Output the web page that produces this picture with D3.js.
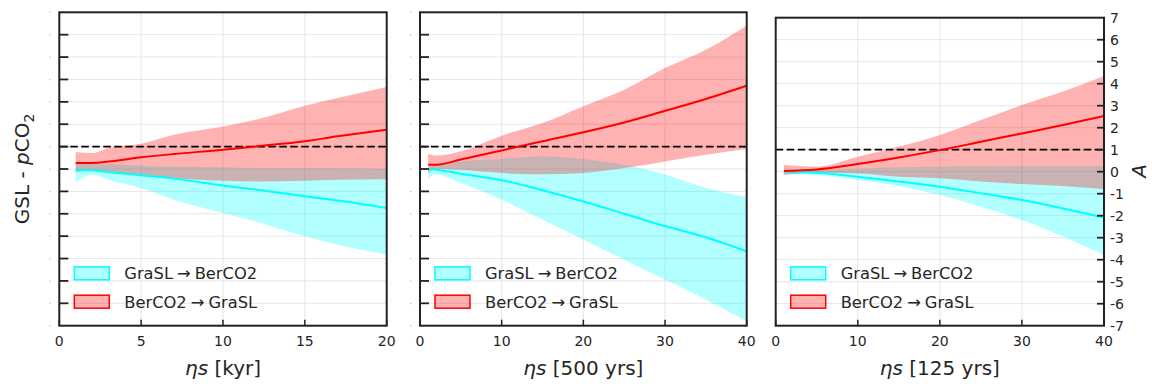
<!DOCTYPE html>
<html><head><meta charset="utf-8">
<script src="https://cdn.jsdelivr.net/npm/d3@7"></script>
<style>
html,body{margin:0;padding:0;background:#fff;}
svg{display:block;font-family:"DejaVu Sans",sans-serif;}
</style></head>
<body><svg id="c" width="1152" height="384"></svg>
<script>
// ---------- data ----------
const seriesNames = ["GraSL\u2192BerCO2", "BerCO2\u2192GraSL"];
const xLabels = ["kyr", "500 yrs", "125 yrs"];
const yTicks = [-7,-6,-5,-4,-3,-2,-1,0,1,2,3,4,5,6,7];
const threshold = 1;

// Panel 1 (eta s in kyr)
const p1X       = [1, 2, 3, 5, 7, 10, 12, 15, 17, 20];
const p1Cyan    = [-0.03,-0.06,-0.13,-0.28,-0.43,-0.74,-0.92,-1.22,-1.41,-1.74];
const p1CyanLo  = [-0.6,-0.25,-0.48,-0.85,-1.37,-1.96,-2.34,-3.0,-3.38,-3.82];
const p1CyanHi  = [0.2,0.25,0.22,0.15,0.1,0.08,0.05,0.05,0.03,0.0];
const p1Red     = [0.27,0.27,0.33,0.52,0.67,0.86,1.01,1.24,1.46,1.76];
const p1RedLo   = [-0.15,-0.05,-0.18,-0.3,-0.42,-0.52,-0.56,-0.52,-0.48,-0.46];
const p1RedHi   = [0.76,0.71,0.94,1.13,1.53,1.9,2.2,2.83,3.17,3.66];

// Panel 2 (eta s in 500 yrs)
const p2X       = [1, 2, 5, 10, 15, 20, 25, 30, 35, 40];
const p2Cyan    = [0,-0.03,-0.21,-0.5,-0.95,-1.45,-2.0,-2.55,-3.05,-3.68];
const p2CyanLo  = [-0.4,-0.25,-0.63,-1.37,-2.26,-3.15,-4.05,-4.94,-5.83,-6.8];
const p2CyanHi  = [0.04,0.19,0.34,0.45,0.57,0.45,0.19,-0.25,-0.85,-1.25];
const p2Red     = [0.19,0.19,0.42,0.83,1.24,1.64,2.08,2.6,3.13,3.72];
const p2RedLo   = [-0.18,0,-0.03,-0.18,-0.24,-0.18,0.04,0.34,0.64,0.89];
const p2RedHi   = [0.68,0.6,0.79,1.49,2.05,2.8,3.54,4.51,5.33,6.4];

// Panel 3 (eta s in 125 yrs)
const p3X       = [1, 5, 10, 15, 20, 25, 30, 35, 40];
const p3Cyan    = [0,-0.05,-0.23,-0.45,-0.68,-0.98,-1.29,-1.67,-2.08];
const p3CyanLo  = [-0.1,-0.15,-0.38,-0.65,-1.06,-1.59,-2.2,-2.95,-3.79];
const p3CyanHi  = [0.15,0.1,0.15,0.2,0.23,0.25,0.26,0.26,0.26];
const p3Red     = [0.03,0.1,0.35,0.65,0.98,1.36,1.74,2.12,2.53];
const p3RedLo   = [-0.15,-0.05,-0.08,-0.23,-0.3,-0.45,-0.56,-0.65,-0.79];
const p3RedHi   = [0.3,0.23,0.68,1.14,1.67,2.35,3.03,3.64,4.35];

const panels = [
  {x:p1X, c:p1Cyan, cLo:p1CyanLo, cHi:p1CyanHi, r:p1Red, rLo:p1RedLo, rHi:p1RedHi,
   xMax:20, xTicks:[0,5,10,15,20], unit:xLabels[0], box:[59.3,386.7,12.3,325.7], left:true},
  {x:p2X, c:p2Cyan, cLo:p2CyanLo, cHi:p2CyanHi, r:p2Red, rLo:p2RedLo, rHi:p2RedHi,
   xMax:40, xTicks:[0,10,20,30,40], unit:xLabels[1], box:[420,746.7,12.3,325.7], left:true},
  {x:p3X, c:p3Cyan, cLo:p3CyanLo, cHi:p3CyanHi, r:p3Red, rLo:p3RedLo, rHi:p3RedHi,
   xMax:40, xTicks:[0,10,20,30,40], unit:xLabels[2], box:[775.7,1104,17.7,325.7], right:true}
];

const CYAN = "#00ffff", RED = "#ff0000";
const svg = d3.select("#c");
const txt = "#262626";

panels.forEach((p, pi) => {
  const [x0,x1,y0,y1] = p.box;
  const xs = d3.scaleLinear().domain([0,p.xMax]).range([x0,x1]);
  const ys = d3.scaleLinear().domain([-7,7]).range([y1,y0]);
  const g = svg.append("g");

  // grid
  g.selectAll(".gy").data(yTicks.filter(t=>t>-7&&t<7)).join("line")
    .attr("x1",x0).attr("x2",x1).attr("y1",d=>ys(d)).attr("y2",d=>ys(d))
    .attr("stroke","#e6e6e6").attr("stroke-width",1);
  g.selectAll(".gx").data(p.xTicks.filter(t=>t>0&&t<p.xMax)).join("line")
    .attr("y1",y0).attr("y2",y1).attr("x1",d=>xs(d)).attr("x2",d=>xs(d))
    .attr("stroke","#e6e6e6").attr("stroke-width",1);

  const idx = d3.range(p.x.length);
  const area = (lo,hi) => d3.area().curve(d3.curveMonotoneX)
      .x(i=>xs(p.x[i])).y0(i=>ys(lo[i])).y1(i=>ys(hi[i]));
  const line = (v) => d3.line().curve(d3.curveMonotoneX)
      .x(i=>xs(p.x[i])).y(i=>ys(v[i]));

  g.append("path").attr("d",area(p.cLo,p.cHi)(idx)).attr("fill",CYAN).attr("fill-opacity",0.3);
  g.append("path").attr("d",area(p.rLo,p.rHi)(idx)).attr("fill",RED).attr("fill-opacity",0.3);

  g.append("line").attr("x1",x0).attr("x2",x1).attr("y1",ys(threshold)).attr("y2",ys(threshold))
    .attr("stroke","#000").attr("stroke-width",1.8).attr("stroke-dasharray","7.5,3.5");

  g.append("path").attr("d",line(p.c)(idx)).attr("fill","none").attr("stroke",CYAN).attr("stroke-width",2);
  g.append("path").attr("d",line(p.r)(idx)).attr("fill","none").attr("stroke",RED).attr("stroke-width",2);

  // x axis ticks (inward) and labels
  g.selectAll(".xt").data(p.xTicks).join("line")
    .attr("x1",d=>xs(d)).attr("x2",d=>xs(d)).attr("y1",y1).attr("y2",y1-6)
    .attr("stroke","#222").attr("stroke-width",1.5);
  g.selectAll(".xl").data(p.xTicks).join("text")
    .attr("x",d=>xs(d)).attr("y",y1+20).attr("text-anchor","middle")
    .attr("font-size",14).attr("fill",txt).text(d=>d);

  // y ticks
  if (p.left) {
    g.selectAll(".yt").data(yTicks.filter(t=>t>-7&&t<7)).join("line")
      .attr("x1",x0).attr("x2",x0+9).attr("y1",d=>ys(d)).attr("y2",d=>ys(d))
      .attr("stroke","#222").attr("stroke-width",1.8);
    g.selectAll(".yd").data(yTicks).join("rect")
      .attr("x",x0-10).attr("y",d=>ys(d)-0.5).attr("width",1.2).attr("height",1.2)
      .attr("fill","#bbb");
  }
  if (p.right) {
    g.selectAll(".yt").data(yTicks.filter(t=>t>-7&&t<7)).join("line")
      .attr("x1",x1).attr("x2",x1-7).attr("y1",d=>ys(d)).attr("y2",d=>ys(d))
      .attr("stroke","#222").attr("stroke-width",1.8);
    g.selectAll(".yl").data(yTicks).join("text")
      .attr("x",x1+6).attr("y",d=>ys(d)+5).attr("font-size",14).attr("fill",txt)
      .text(d=>String(d));
  }

  // frame
  g.append("rect").attr("x",x0).attr("y",y0).attr("width",x1-x0).attr("height",y1-y0)
    .attr("fill","none").attr("stroke","#222").attr("stroke-width",2);

  // x label
  const xl = g.append("text").attr("x",(x0+x1)/2).attr("y",375).attr("text-anchor","middle")
    .attr("font-size",20).attr("fill",txt);
  xl.append("tspan").attr("font-style","italic").text("\u03b7s");
  xl.append("tspan").text(" [" + p.unit + "]");

  // legend
  const cols = [CYAN, RED];
  seriesNames.forEach((nm, k) => {
    const cy = [273.3, 301.7][k];
    g.append("rect").attr("x",x0+15).attr("y",cy-6.5).attr("width",35).attr("height",13)
      .attr("fill",cols[k]).attr("fill-opacity",0.3).attr("stroke",cols[k]).attr("stroke-width",1.5);
    const parts = nm.split("\u2192");
    const t = g.append("text").attr("x",x0+65).attr("y",cy+6).attr("font-size",16.3).attr("fill",txt);
    t.append("tspan").text(parts[0]);
    t.append("tspan").attr("dx",4).text("\u2192");
    t.append("tspan").attr("dx",4).text(parts[1]);
  });
});

// y label left
const yl = svg.append("text").attr("transform","translate(29,169) rotate(-90)")
  .attr("text-anchor","middle").attr("font-size",20).attr("fill",txt);
yl.append("tspan").text("GSL - ");
yl.append("tspan").attr("font-style","italic").text("p");
yl.append("tspan").text("CO");
yl.append("tspan").attr("font-size",14).attr("dy",5).text("2");

// right label
svg.append("text").attr("transform","translate(1146,171) rotate(-90)")
  .attr("text-anchor","middle").attr("font-size",20).attr("font-style","italic").attr("fill",txt).text("A");
</script>
</body></html>
